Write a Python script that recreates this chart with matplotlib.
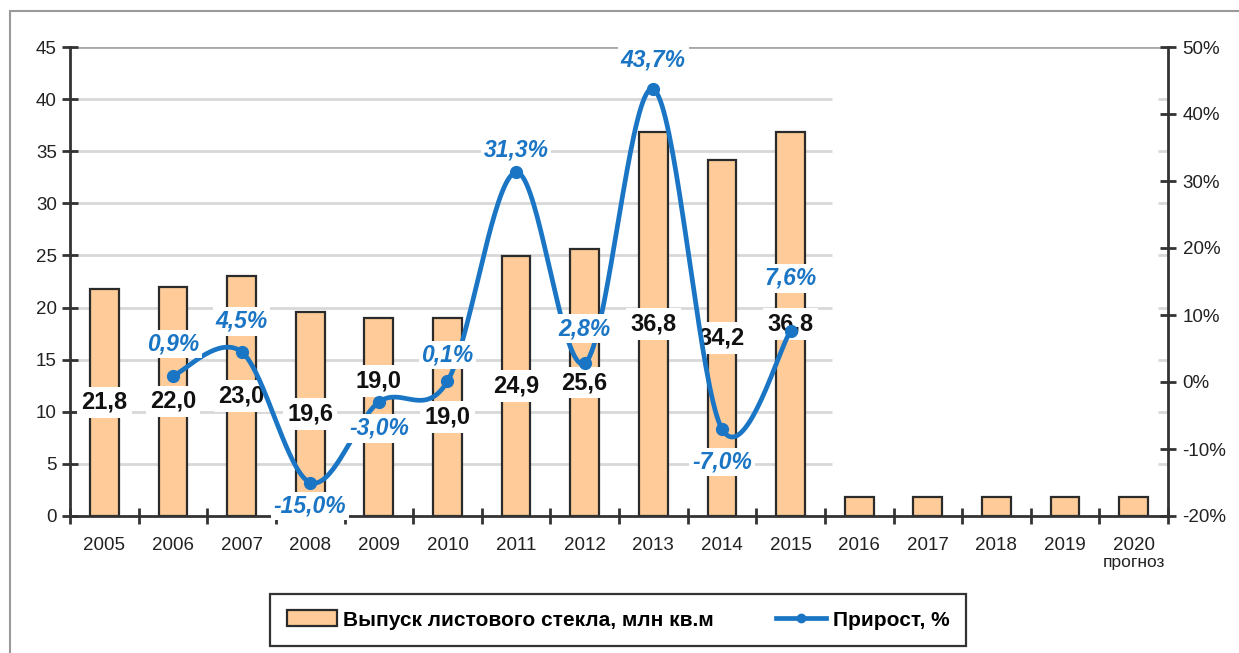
import numpy as np
import matplotlib
matplotlib.use("Agg")
import matplotlib.pyplot as plt
from matplotlib.lines import Line2D
from matplotlib.patches import Patch, Rectangle
from matplotlib import font_manager

# ---------------- data ----------------
years = ["2005", "2006", "2007", "2008", "2009", "2010", "2011", "2012",
         "2013", "2014", "2015", "2016", "2017", "2018", "2019", "2020"]
output_vals = [21.8, 22.0, 23.0, 19.6, 19.0, 19.0, 24.9, 25.6,
               36.8, 34.2, 36.8, 1.8, 1.8, 1.8, 1.8, 1.8]
output_labels = ["21,8", "22,0", "23,0", "19,6", "19,0", "19,0", "24,9", "25,6",
                 "36,8", "34,2", "36,8"]
growth_years_idx = [1, 2, 3, 4, 5, 6, 7, 8, 9, 10]
growth_vals = [0.9, 4.5, -15.0, -3.0, 0.1, 31.3, 2.8, 43.7, -7.0, 7.6]
growth_labels = ["0,9%", "4,5%", "-15,0%", "-3,0%", "0,1%", "31,3%", "2,8%",
                 "43,7%", "-7,0%", "7,6%"]
left_ticks = [0, 5, 10, 15, 20, 25, 30, 35, 40, 45]
right_ticks = [-20, -10, 0, 10, 20, 30, 40, 50]
right_ticklabels = ["-20%", "-10%", "0%", "10%", "20%", "30%", "40%", "50%"]
legend_bar = "Выпуск листового стекла, млн кв.м"
legend_line = "Прирост, %"
forecast_note = "прогноз"

# ---------------- styles / layout ----------------
available = {f.name for f in font_manager.fontManager.ttflist}
base_font = "Liberation Sans" if "Liberation Sans" in available else "DejaVu Sans"
narrow_font = "Liberation Sans Narrow" if "Liberation Sans Narrow" in available else base_font
plt.rcParams["font.family"] = [base_font, "DejaVu Sans"]

BAR_COLOR = "#FFCC99"
EDGE = "#2b2b2b"
BLUE = "#1a75c4"
AXIS_COLOR = "#333333"
GRID_COLOR = "#d8d8d8"

# label offsets in points (layout only)
bar_label_shift = [0, 0, 0, 0, 26, 0, 0, 0, 0, 0, 0]
pct_label_shift = [23, 22, -17, -19, 19, 16, 25, 21, -24, 38]

W, H = 1239, 653
fig = plt.figure(figsize=(W / 100, H / 100), dpi=100)
fig.patch.set_facecolor("white")

# outer frame
fig.add_artist(Rectangle((10 / W, -0.05), 1.1, 1 - 11 / H + 0.05,
                         transform=fig.transFigure, fill=False,
                         edgecolor="#9a9a9a", linewidth=1.5))

left, right = 70 / W, 1168 / W
bottom, top = 1 - 516 / H, 1 - 47 / H
ax = fig.add_axes([left, bottom, right - left, top - bottom])
ax2 = ax.twinx()

x = np.arange(len(years))
ax.set_xlim(-0.5, len(years) - 0.5)
ax.set_ylim(0, 45)
ax2.set_ylim(-20, 50)

# gridlines (partial as in the reference) + stubs near the right axis
ax.hlines(left_ticks[1:-1], -0.5, 10.6, colors=GRID_COLOR, linewidth=2, zorder=0)
ax.hlines(left_ticks[1:-1], 15.35, 15.5, colors=GRID_COLOR, linewidth=2, zorder=0)
ax.hlines([45], -0.5, 15.5, colors="#a8a8a8", linewidth=2, zorder=0)

# bars
ax.bar(x, output_vals, width=0.42, color=BAR_COLOR, edgecolor=EDGE,
       linewidth=1.6, zorder=2)

# bar value labels
for i, (v, lab) in enumerate(zip(output_vals, output_labels)):
    ax.annotate(lab, (x[i], v / 2), xytext=(0, bar_label_shift[i]),
                textcoords="offset points", ha="center", va="center",
                fontsize=17, fontweight="bold", color="#111111", zorder=6,
                bbox=dict(boxstyle="square,pad=0.18", fc="white", ec="none"))

# smoothed growth line (Excel-like Catmull-Rom Bezier)
gx = np.array(growth_years_idx, dtype=float)
gy = np.array(growth_vals, dtype=float)
pts = np.column_stack([gx, gy])
ext = np.vstack([pts[0], pts, pts[-1]])
curve = []
tt = np.linspace(0, 1, 40)
for k in range(len(pts) - 1):
    p0, p1, p2, p3 = ext[k], ext[k + 1], ext[k + 2], ext[k + 3]
    c1 = p1 + (p2 - p0) / 6.0
    c2 = p2 - (p3 - p1) / 6.0
    seg = ((1 - tt)[:, None] ** 3 * p1 + 3 * ((1 - tt) ** 2 * tt)[:, None] * c1
           + 3 * ((1 - tt) * tt ** 2)[:, None] * c2 + (tt ** 3)[:, None] * p2)
    curve.append(seg)
curve = np.vstack(curve)
ax2.plot(curve[:, 0], curve[:, 1], color=BLUE, linewidth=3.4, zorder=3,
         solid_capstyle="round")
ax2.plot(gx, gy, linestyle="none", marker="o", markersize=8.5, color=BLUE, zorder=4)

for i, (xv, yv, lab) in enumerate(zip(gx, gy, growth_labels)):
    ax2.annotate(lab, (xv, yv), xytext=(0, pct_label_shift[i]),
                 textcoords="offset points", ha="center", va="center",
                 fontsize=16.5, fontweight="bold", fontstyle="italic", color=BLUE,
                 zorder=7,
                 bbox=dict(boxstyle="square,pad=0.12", fc="white", ec="none"))

ax2.set_zorder(ax.get_zorder() + 1)
ax2.patch.set_visible(False)

# axes styling
for a in (ax, ax2):
    a.spines["top"].set_visible(False)
ax.spines["right"].set_visible(False)
ax2.spines["left"].set_visible(False)
ax2.spines["bottom"].set_visible(False)
ax.spines["left"].set_color(AXIS_COLOR)
ax.spines["left"].set_linewidth(2)
ax.spines["bottom"].set_color(AXIS_COLOR)
ax.spines["bottom"].set_linewidth(2)
ax2.spines["right"].set_color(AXIS_COLOR)
ax2.spines["right"].set_linewidth(2)

ax.set_yticks(left_ticks)
ax.set_yticklabels([str(t) for t in left_ticks])
ax.tick_params(axis="y", direction="inout", length=11, width=2, color=AXIS_COLOR,
               labelsize=13.5, labelcolor="#222222", pad=4)
ax2.set_yticks(right_ticks)
ax2.set_yticklabels(right_ticklabels)
ax2.tick_params(axis="y", direction="inout", length=11, width=2, color=AXIS_COLOR,
                labelsize=13.5, labelcolor="#222222", pad=5)

ax.set_xticks(x)
ax.set_xticklabels(years)
ax.tick_params(axis="x", length=0, labelsize=13.5, labelcolor="#222222", pad=15)
ax.set_xticks(np.arange(-0.5, len(years)), minor=True)
ax.tick_params(axis="x", which="minor", direction="inout", length=11, width=2,
               color=AXIS_COLOR)
ax.text(x[-1], -0.1, forecast_note, transform=ax.get_xaxis_transform(),
        ha="center", va="center", fontsize=12.5, color="#222222")

# legend
handles = [Patch(facecolor=BAR_COLOR, edgecolor=EDGE, linewidth=1.6),
           Line2D([], [], color=BLUE, linewidth=3.4, marker="o", markersize=6)]
leg = fig.legend(handles, [legend_bar, legend_line], loc="center",
                 bbox_to_anchor=(618 / W, 1 - 620 / H), ncol=2, frameon=True,
                 fancybox=False, edgecolor="#333333", framealpha=1,
                 prop=dict(family=narrow_font, weight="bold", size=15),
                 handlelength=2.4, handleheight=0.8, columnspacing=3.0,
                 borderpad=0.8, handletextpad=0.3, borderaxespad=0)
leg.get_frame().set_linewidth(1.6)

fig.savefig("out.png", dpi=100, facecolor="white")
